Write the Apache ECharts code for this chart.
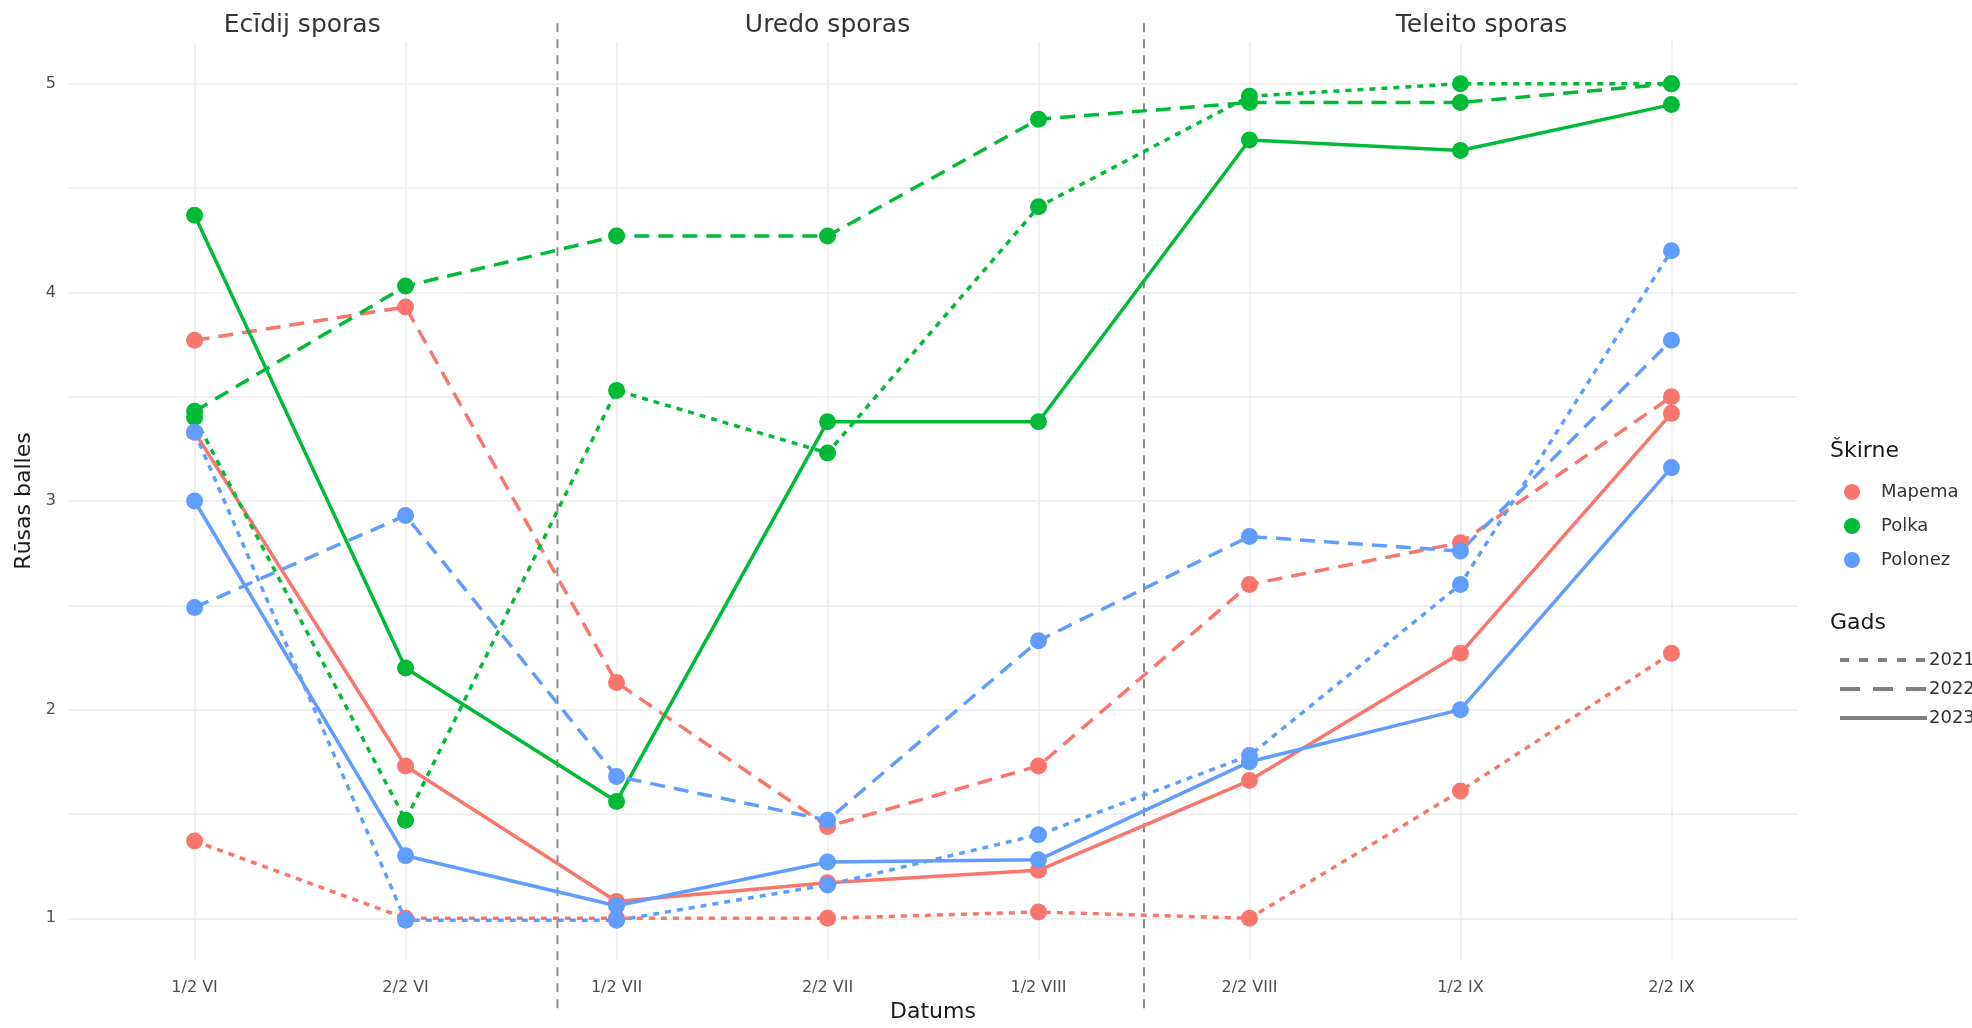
<!DOCTYPE html>
<html>
<head>
<meta charset="utf-8">
<script src="https://cdn.jsdelivr.net/npm/echarts@6/dist/echarts.min.js"></script>
<style>
html,body{margin:0;padding:0;background:#fff;}
#chart{width:1972px;height:1028px;}
</style>
</head>
<body>
<div id="chart"></div>
<script>
// ---- data ----
const categories = ['1/2 VI','2/2 VI','1/2 VII','2/2 VII','1/2 VIII','2/2 VIII','1/2 IX','2/2 IX'];
const varieties = ['Mapema','Polka','Polonez'];
const years = ['2021','2022','2023'];

const mapema2021 = [1.37, 1.00, 1.00, 1.00, 1.03, 1.00, 1.61, 2.27];
const mapema2022 = [3.77, 3.93, 2.13, 1.44, 1.73, 2.60, 2.80, 3.50];
const mapema2023 = [3.33, 1.73, 1.08, 1.17, 1.23, 1.66, 2.27, 3.42];
const polka2021 = [3.40, 1.47, 3.53, 3.23, 4.41, 4.94, 5.00, 5.00];
const polka2022 = [3.43, 4.03, 4.27, 4.27, 4.83, 4.91, 4.91, 5.00];
const polka2023 = [4.37, 2.20, 1.56, 3.38, 3.38, 4.73, 4.68, 4.90];
const polonez2021 = [3.33, 0.99, 0.99, 1.16, 1.40, 1.78, 2.60, 4.20];
const polonez2022 = [2.49, 2.93, 1.68, 1.47, 2.33, 2.83, 2.76, 3.77];
const polonez2023 = [3.00, 1.30, 1.06, 1.27, 1.28, 1.75, 2.00, 3.16];

const yTickLabels = [1, 2, 3, 4, 5];
const yGridValues = [1, 1.5, 2, 2.5, 3, 3.5, 4, 4.5, 5];

const phaseLabels = ['Ecīdij sporas', 'Uredo sporas', 'Teleito sporas'];
const phaseLabelX = [1.51, 4.0, 7.1];
const phaseLabelY = 5.28;
const phaseDividers = [2.72, 5.5];
const dividerRange = [5.29, 0.56];

// ---- styles ----
const FONT = 'DejaVu Sans';
const colors = { Mapema: '#F8766D', Polka: '#00BA38', Polonez: '#619CFF' };
const yearDash = { '2021': [6, 6], '2022': [15, 9], '2023': 'solid' };
const legendDash = { '2021': [9, 10], '2022': [20, 13], '2023': 'solid' };

const table = {
  Mapema: { '2021': mapema2021, '2022': mapema2022, '2023': mapema2023 },
  Polka: { '2021': polka2021, '2022': polka2022, '2023': polka2023 },
  Polonez: { '2021': polonez2021, '2022': polonez2022, '2023': polonez2023 }
};

const xPositions = categories.map((c, i) => i + 1);

const series = [];
// divider lines
phaseDividers.forEach((x) => {
  series.push({
    type: 'line', name: 'divider', silent: true, clip: false, symbol: 'none', z: 1,
    data: [[x, dividerRange[0]], [x, dividerRange[1]]],
    lineStyle: { color: '#8A8A8A', width: 2, type: [9, 7] }
  });
});
// data lines
varieties.forEach((v) => {
  years.forEach((y) => {
    series.push({
      type: 'line', name: v, z: 3,
      data: table[v][y].map((val, i) => [xPositions[i], val]),
      symbol: 'circle', symbolSize: 17,
      itemStyle: { color: colors[v] },
      lineStyle: { color: colors[v], width: 3.5, type: yearDash[y] },
      emphasis: { disabled: true }
    });
  });
});
// legend-only series for years
years.forEach((y) => {
  series.push({
    type: 'line', name: y, data: [], symbol: 'none',
    itemStyle: { color: '#7F7F7F' },
    lineStyle: { color: '#7F7F7F', width: 4, type: legendDash[y] }
  });
});
// phase labels
series.push({
  type: 'scatter', name: 'labels', silent: true, clip: false, symbolSize: 0,
  data: phaseLabels.map((t, i) => [phaseLabelX[i], phaseLabelY, t]),
  label: {
    show: true, position: 'inside', formatter: (p) => p.data[2],
    fontFamily: FONT, fontSize: 25, color: '#000000'
  }
});

const chart = echarts.init(document.getElementById('chart'), null, { renderer: 'canvas' });
chart.setOption({
  animation: false,
  backgroundColor: '#ffffff',
  textStyle: { fontFamily: FONT },
  grid: { left: 68, right: 174, top: 42, bottom: 56, containLabel: false },
  title: [
    { text: 'Škirne', left: 1830, top: 440, padding: 0, textStyle: { fontFamily: FONT, fontSize: 22, fontWeight: 'normal', color: '#1A1A1A' } },
    { text: 'Gads', left: 1830, top: 612, padding: 0, textStyle: { fontFamily: FONT, fontSize: 22, fontWeight: 'normal', color: '#1A1A1A' } }
  ],
  legend: [
    {
      data: varieties, orient: 'vertical', left: 1839, top: 478,
      icon: 'circle', itemWidth: 16, itemHeight: 16, itemGap: 16,
      selectedMode: false,
      textStyle: { fontFamily: FONT, fontSize: 18, color: '#333333', padding: [0, 0, 0, 16] }
    },
    {
      data: years, orient: 'vertical', left: 1833, top: 646,
      itemWidth: 87, itemHeight: 14, itemGap: 11,
      selectedMode: false,
      itemStyle: { opacity: 0, color: 'transparent', borderWidth: 0 },
      lineStyle: { color: '#7F7F7F', width: 4 },
      textStyle: { fontFamily: FONT, fontSize: 18, color: '#333333', padding: [0, 0, 0, -3] }
    }
  ],
  xAxis: {
    type: 'value', min: 0.4, max: 8.6,
    name: 'Datums', nameLocation: 'middle', nameGap: 41,
    nameTextStyle: { fontFamily: FONT, fontSize: 22, color: '#1A1A1A' },
    axisLine: { show: false },
    axisTick: { show: false, customValues: xPositions },
    axisLabel: {
      customValues: xPositions, margin: 20,
      formatter: (v) => categories[Math.round(v) - 1] || '',
      fontFamily: FONT, fontSize: 16, color: '#4D4D4D'
    },
    splitLine: { show: true, lineStyle: { color: '#EBEBEB', width: 1.5 } }
  },
  yAxis: {
    type: 'value', min: 0.8, max: 5.2,
    name: 'Rūsas balles', nameLocation: 'middle', nameGap: 27,
    nameTextStyle: { fontFamily: FONT, fontSize: 22, color: '#1A1A1A' },
    axisLine: { show: false },
    axisTick: { show: false, customValues: yGridValues },
    axisLabel: {
      customValues: yTickLabels, margin: 12,
      fontFamily: FONT, fontSize: 16, color: '#4D4D4D'
    },
    splitLine: { show: true, lineStyle: { color: '#EBEBEB', width: 1.5 } }
  },
  series: series
});
</script>
</body>
</html>
